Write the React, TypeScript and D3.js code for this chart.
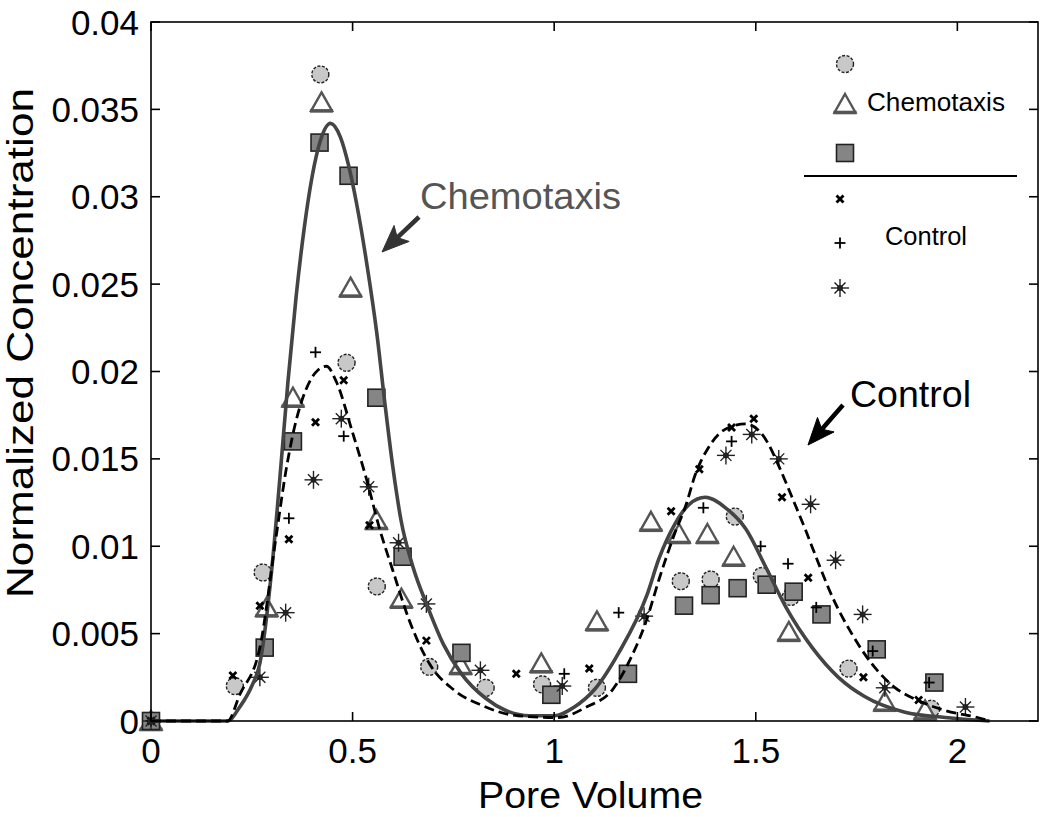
import React from "react";
import * as d3 from "d3";

const W = 1050;
const H = 817;
const PLOT = { left: 151, right: 1038, top: 22, bottom: 721 };

const xTicks = [0, 0.5, 1, 1.5, 2];
const xTickLabels = ["0", "0.5", "1", "1.5", "2"];
const yTicks = [0, 0.005, 0.01, 0.015, 0.02, 0.025, 0.03, 0.035, 0.04];
const yTickLabels = ["0", "0.005", "0.01", "0.015", "0.02", "0.025", "0.03", "0.035", "0.04"];

// Fitted curves
const chemoFitX = [0, 0.19, 0.22, 0.25, 0.27, 0.3, 0.32, 0.34, 0.36, 0.38, 0.4, 0.42, 0.445, 0.47, 0.49, 0.51, 0.535, 0.56, 0.58, 0.6, 0.62, 0.65, 0.685, 0.725, 0.77, 0.83, 0.88, 0.94, 1.0, 1.05, 1.1, 1.16, 1.23, 1.26, 1.3, 1.335, 1.375, 1.425, 1.475, 1.525, 1.575, 1.64, 1.705, 1.77, 1.87, 1.97, 2.08];
const chemoFitY = [0, 0, 0.0008, 0.002, 0.0033, 0.0088, 0.014, 0.0195, 0.0243, 0.0282, 0.0312, 0.0332, 0.0342, 0.0334, 0.0318, 0.0296, 0.0262, 0.0222, 0.0182, 0.0145, 0.0115, 0.0088, 0.0066, 0.0044, 0.0027, 0.0013, 0.0006, 0.0003, 0.0003, 0.0008, 0.0018, 0.0039, 0.0072, 0.0093, 0.0113, 0.0124, 0.0128, 0.0122, 0.011, 0.0088, 0.0065, 0.0042, 0.0025, 0.0014, 0.0005, 0.0002, 0];

const controlFitX = [0, 0.19, 0.22, 0.27, 0.31, 0.336, 0.36, 0.385, 0.415, 0.435, 0.46, 0.5, 0.535, 0.567, 0.6, 0.64, 0.69, 0.75, 0.82, 0.91, 1.01, 1.08, 1.145, 1.19, 1.228, 1.26, 1.3, 1.326, 1.35, 1.384, 1.433, 1.475, 1.525, 1.557, 1.59, 1.624, 1.656, 1.69, 1.738, 1.787, 1.846, 1.9, 1.97, 2.05, 2.08];
const controlFitY = [0, 0, 0.0015, 0.0042, 0.0105, 0.0145, 0.0172, 0.019, 0.0201, 0.0203, 0.0194, 0.0165, 0.0138, 0.011, 0.0086, 0.0058, 0.0033, 0.0018, 0.0009, 0.0003, 0.0002, 0.0008, 0.0018, 0.0036, 0.0057, 0.0081, 0.0108, 0.0123, 0.0141, 0.0157, 0.0168, 0.017, 0.0161, 0.0146, 0.0128, 0.0109, 0.009, 0.0071, 0.005, 0.0033, 0.0019, 0.0012, 0.0006, 0.0002, 0];

// Chemotaxis data
const circleX = [0, 0.208, 0.277, 0.42, 0.485, 0.56, 0.69, 0.83, 0.97, 1.106, 1.314, 1.388, 1.448, 1.515, 1.587, 1.73, 1.935];
const circleY = [0, 0.002, 0.0085, 0.037, 0.0205, 0.0077, 0.0031, 0.0019, 0.0021, 0.0019, 0.008, 0.0081, 0.0117, 0.0083, 0.0071, 0.003, 0.0007];

const triX = [0, 0.287, 0.352, 0.423, 0.495, 0.559, 0.621, 0.768, 0.968, 1.106, 1.24, 1.31, 1.38, 1.445, 1.582, 1.82, 1.92];
const triY = [0, 0.0065, 0.0185, 0.0354, 0.0248, 0.0115, 0.007, 0.0032, 0.0033, 0.0057, 0.0114, 0.0107, 0.0107, 0.0094, 0.0051, 0.0011, 0.0006];

const squareX = [0, 0.282, 0.352, 0.418, 0.49, 0.559, 0.624, 0.77, 0.993, 1.183, 1.322, 1.388, 1.455, 1.527, 1.594, 1.663, 1.8, 1.943];
const squareY = [0, 0.0042, 0.016, 0.0331, 0.0312, 0.0185, 0.0094, 0.0039, 0.0015, 0.0027, 0.0066, 0.0072, 0.0076, 0.0078, 0.0074, 0.0061, 0.0041, 0.0022];

// Control data
const xMarkX = [0, 0.203, 0.27, 0.342, 0.408, 0.478, 0.542, 0.683, 0.906, 1.087, 1.29, 1.36, 1.44, 1.495, 1.565, 1.63, 1.767, 1.904];
const xMarkY = [0, 0.0026, 0.0066, 0.0104, 0.0171, 0.0195, 0.0112, 0.0046, 0.0027, 0.003, 0.012, 0.0144, 0.0168, 0.0173, 0.0128, 0.0082, 0.0025, 0.0012];

const plusX = [0, 0.342, 0.408, 0.478, 1.025, 1.16, 1.37, 1.44, 1.512, 1.58, 1.65, 1.79, 1.93];
const plusY = [0, 0.0116, 0.0211, 0.0163, 0.0027, 0.0062, 0.0122, 0.016, 0.01, 0.009, 0.0065, 0.004, 0.0022];

const starX = [0, 0.27, 0.334, 0.403, 0.472, 0.54, 0.614, 0.683, 0.817, 1.02, 1.223, 1.426, 1.49, 1.557, 1.636, 1.698, 1.765, 1.82, 2.02];
const starY = [0, 0.0025, 0.0062, 0.0138, 0.0173, 0.0134, 0.0102, 0.0067, 0.0029, 0.002, 0.006, 0.0152, 0.0164, 0.015, 0.0124, 0.0092, 0.0061, 0.0019, 0.0008];

const FONT = "'Liberation Sans', Arial, Helvetica, sans-serif";

const x = d3.scaleLinear().domain([0, 2.2]).range([PLOT.left, PLOT.right]);
const y = d3.scaleLinear().domain([0, 0.04]).range([PLOT.bottom, PLOT.top]);

const zip = (xs: number[], ys: number[]) => xs.map((v, i) => [v, ys[i]] as [number, number]);

const lineGen = d3
  .line<[number, number]>()
  .x((d) => x(d[0]))
  .y((d) => y(d[1]))
  .curve(d3.curveMonotoneX);

function Circle({ cx, cy }: { cx: number; cy: number }) {
  return <circle cx={cx} cy={cy} r={8.5} fill="#c8c8c8" stroke="#222" strokeWidth={1.4} strokeDasharray="3,1.6" />;
}
function Tri({ cx, cy }: { cx: number; cy: number }) {
  return (
    <g transform={`translate(${cx},${cy})`}>
      <path d="M0,-10 L10.5,8.5 L-10.5,8.5 Z" fill="#fff" stroke="#555" strokeWidth={2.4} strokeLinejoin="miter" />
      <line x1={-11.5} x2={11.5} y1={8.5} y2={8.5} stroke="#555" strokeWidth={3.6} />
    </g>
  );
}
function Sq({ cx, cy }: { cx: number; cy: number }) {
  return <rect x={cx - 8.5} y={cy - 8.5} width={17} height={17} fill="#858585" stroke="#222" strokeWidth={1.6} />;
}
function XM({ cx, cy }: { cx: number; cy: number }) {
  return (
    <g transform={`translate(${cx},${cy})`} stroke="#000" strokeWidth={2.8}>
      <line x1={-3.5} y1={-3.5} x2={3.5} y2={3.5} />
      <line x1={-3.5} y1={3.5} x2={3.5} y2={-3.5} />
    </g>
  );
}
function PM({ cx, cy }: { cx: number; cy: number }) {
  return (
    <g transform={`translate(${cx},${cy})`} stroke="#000" strokeWidth={1.8}>
      <line x1={-5.5} y1={0} x2={5.5} y2={0} />
      <line x1={0} y1={-5.5} x2={0} y2={5.5} />
    </g>
  );
}
function SM({ cx, cy }: { cx: number; cy: number }) {
  return (
    <g transform={`translate(${cx},${cy})`} stroke="#222" strokeWidth={1.4}>
      <line x1={-9} y1={0} x2={9} y2={0} />
      <line x1={0} y1={-9} x2={0} y2={9} />
      <line x1={-5.5} y1={-5.5} x2={5.5} y2={5.5} />
      <line x1={-5.5} y1={5.5} x2={5.5} y2={-5.5} />
      <circle r={3} fill="#222" stroke="none" />
    </g>
  );
}

function Arrow({ x1, y1, x2, y2, color }: { x1: number; y1: number; x2: number; y2: number; color: string }) {
  const ang = Math.atan2(y2 - y1, x2 - x1);
  const L = 27;
  const hw = 11;
  const bx = x2 - L * Math.cos(ang);
  const by = y2 - L * Math.sin(ang);
  const px = -Math.sin(ang) * hw;
  const py = Math.cos(ang) * hw;
  const nx = x2 - (L - 6) * Math.cos(ang);
  const ny = y2 - (L - 6) * Math.sin(ang);
  return (
    <g>
      <line x1={x1} y1={y1} x2={nx} y2={ny} stroke={color} strokeWidth={4.5} />
      <path d={`M${x2},${y2} L${bx + px},${by + py} L${nx},${ny} L${bx - px},${by - py} Z`} fill={color} stroke={color} strokeWidth={1} />
    </g>
  );
}

export default function App() {
  const circles = zip(circleX, circleY);
  const tris = zip(triX, triY);
  const squares = zip(squareX, squareY);
  const xms = zip(xMarkX, xMarkY);
  const pms = zip(plusX, plusY);
  const sms = zip(starX, starY);
  const tickLen = 9;
  return (
    <svg
      width={W}
      height={H}
      viewBox={`0 0 ${W} ${H}`}
      style={{ position: "absolute", left: 0, top: 0, background: "#fff" }}
      fontFamily={FONT}
    >
      <rect width={W} height={H} fill="#fff" />
      {/* markers */}
      {circles.map((d, i) => <Circle key={"c" + i} cx={x(d[0])} cy={y(d[1])} />)}
      {tris.map((d, i) => <Tri key={"t" + i} cx={x(d[0])} cy={y(d[1])} />)}
      {squares.map((d, i) => <Sq key={"s" + i} cx={x(d[0])} cy={y(d[1])} />)}
      {xms.map((d, i) => <XM key={"x" + i} cx={x(d[0])} cy={y(d[1])} />)}
      {pms.map((d, i) => <PM key={"p" + i} cx={x(d[0])} cy={y(d[1])} />)}
      {sms.map((d, i) => <SM key={"a" + i} cx={x(d[0])} cy={y(d[1])} />)}

      {/* fitted curves */}
      <path d={lineGen(zip(chemoFitX, chemoFitY)) || ""} fill="none" stroke="#444" strokeWidth={3.6} />
      <path d={lineGen(zip(controlFitX, controlFitY)) || ""} fill="none" stroke="#000" strokeWidth={2.8} strokeDasharray="10,5" />

      {/* axes box */}
      <rect x={PLOT.left} y={PLOT.top} width={PLOT.right - PLOT.left} height={PLOT.bottom - PLOT.top} fill="none" stroke="#000" strokeWidth={1.6} />
      {xTicks.map((t, i) => (
        <g key={"xt" + i}>
          <line x1={x(t)} x2={x(t)} y1={PLOT.bottom} y2={PLOT.bottom - tickLen} stroke="#000" strokeWidth={1.6} />
          <line x1={x(t)} x2={x(t)} y1={PLOT.top} y2={PLOT.top + tickLen} stroke="#000" strokeWidth={1.6} />
          <text x={x(t)} y={763} textAnchor="middle" fontSize={35} fill="#000">{xTickLabels[i]}</text>
        </g>
      ))}
      {yTicks.map((t, i) => (
        <g key={"yt" + i}>
          <line x1={PLOT.left} x2={PLOT.left + tickLen} y1={y(t)} y2={y(t)} stroke="#000" strokeWidth={1.6} />
          <line x1={PLOT.right} x2={PLOT.right - tickLen} y1={y(t)} y2={y(t)} stroke="#000" strokeWidth={1.6} />
          <text x={139} y={y(t) + 12.5} textAnchor="end" fontSize={35} fill="#000">{yTickLabels[i]}</text>
        </g>
      ))}
      <text x={478} y={808} fontSize={37} fill="#000" textLength={225} lengthAdjust="spacingAndGlyphs">Pore Volume</text>
      <text transform={`translate(33,598) rotate(-90)`} fontSize={37} fill="#000" textLength={510} lengthAdjust="spacingAndGlyphs">Normalized Concentration</text>

      {/* annotations */}
      <text x={420} y={209} fontSize={37} fill="#555" textLength={201} lengthAdjust="spacingAndGlyphs">Chemotaxis</text>
      <Arrow x1={419} y1={217} x2={382} y2={252} color="#333" />
      <text x={850} y={407} fontSize={37} fill="#000" textLength={121} lengthAdjust="spacingAndGlyphs">Control</text>
      <Arrow x1={843} y1={405} x2={808} y2={445} color="#000" />

      {/* legend */}
      <Circle cx={845} cy={64} />
      <Tri cx={845} cy={104} />
      <Sq cx={845} cy={153} />
      <text x={867} y={111} fontSize={25} fill="#000" textLength={138} lengthAdjust="spacingAndGlyphs">Chemotaxis</text>
      <line x1={804} x2={1017} y1={176} y2={176} stroke="#000" strokeWidth={2} />
      <XM cx={840} cy={199} />
      <PM cx={840} cy={243} />
      <SM cx={840} cy={288} />
      <text x={885} y={245} fontSize={25} fill="#000" textLength={82} lengthAdjust="spacingAndGlyphs">Control</text>
    </svg>
  );
}
